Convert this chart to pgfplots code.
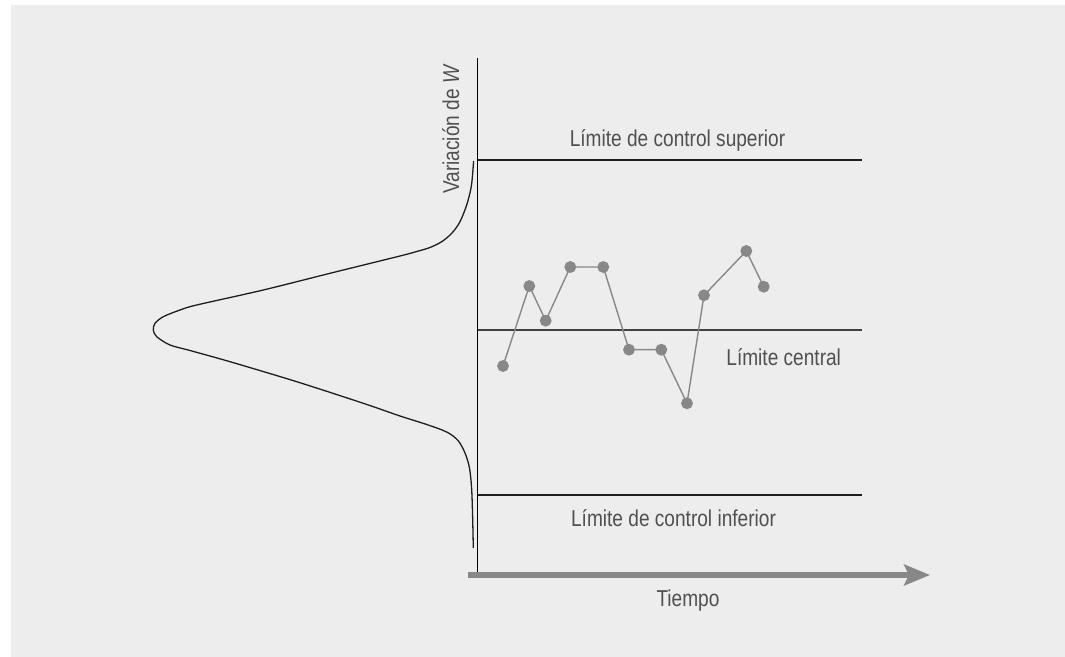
\documentclass[border=0pt]{standalone}
\usepackage{pgfplots}
\pgfplotsset{compat=1.18}
\usetikzlibrary{arrows.meta}
\usepackage{fontspec}
\setmainfont{Liberation Sans}[FakeStretch=0.83]

\definecolor{panel}{RGB}{237,237,237}
\definecolor{ptgray}{RGB}{136,136,136}
\definecolor{txtgray}{RGB}{80,80,80}
\definecolor{linegray}{RGB}{30,30,30}

\begin{document}
\begin{tikzpicture}
\begin{axis}[
    width=532.5pt, height=328.5pt, scale only axis,
    xmin=0, xmax=1065, ymin=0, ymax=657, y dir=reverse,
    axis lines=none, clip=false,
  ]
  % background panel
  \fill[white] (axis cs:0,0) rectangle (axis cs:1065,657);
  \fill[panel] (axis cs:11,5) rectangle (axis cs:1065,657);

  % normal curve along the vertical axis
  \addplot[linegray, line width=0.65pt, smooth, tension=0.5] coordinates {
    (473.6,161) (471.5,185) (467,204) (460,221.7) (452,233) (442,241.5)
    (430,247.5) (415,252) (400,256) (330,273.3) (263.3,290) (196.7,305) (180,310)
    (163.3,316.7) (155,323.3) (153.3,330) (156.7,336.7) (170,345) (190,350.5)
    (230,361.7) (296.7,381.7) (363.3,403.3) (400,416) (426.7,424.5)
    (446.7,432) (458,440.5) (465,453) (469.5,468) (471.7,490) (472.7,520) (473.3,548)
  };

  % vertical axis
  \addplot[black, line width=0.8pt] coordinates {(477.5,58) (477.5,574)};

  % control limits
  \addplot[linegray, line width=0.75pt] coordinates {(477.5,160) (862,160)};
  \addplot[black!75, line width=1pt] coordinates {(477.5,330.5) (862,330.5)};
  \addplot[linegray, line width=0.75pt] coordinates {(477.5,495) (862,495)};

  % time arrow
  \addplot[ptgray, line width=2.6pt, -{Stealth[length=13pt, width=10.5pt, inset=2.5pt]}]
    coordinates {(468,575) (930,575)};

  % sample points
  \addplot[ptgray, line width=0.7pt, mark=*, mark size=2.6pt,
           mark options={fill=ptgray, draw=ptgray}] coordinates {
    (503,366) (529.3,286) (545.7,320.7) (570.3,267) (603.3,267)
    (629,349.7) (661.3,349.7) (687,403.3) (704,295.3) (746.3,251) (763.7,286.7)
  };

  % labels
  \begin{scope}[every node/.style={text=txtgray, font=\fontsize{11.5}{13}\selectfont, inner sep=0pt}]
    \node[anchor=base] at (axis cs:677.5,147) {Límite de control superior};
    \node[anchor=base west] at (axis cs:726,366) {Límite central};
    \node[anchor=base] at (axis cs:673.5,526.5) {Límite de control inferior};
    \node[anchor=base] at (axis cs:688,606.5) {Tiempo};
    \node[anchor=base, rotate=90] at (axis cs:459,129) {Variación de \textit{W}};
  \end{scope}
\end{axis}
\end{tikzpicture}
\end{document}
